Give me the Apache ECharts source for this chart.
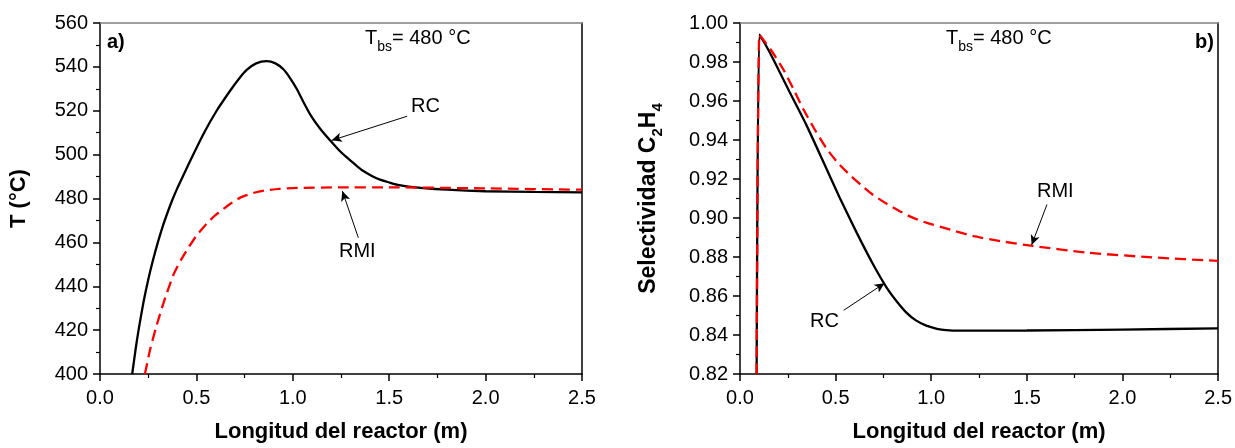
<!DOCTYPE html>
<html>
<head>
<meta charset="utf-8">
<script src="https://cdn.jsdelivr.net/npm/echarts@6/dist/echarts.min.js"></script>
<style>
html,body{margin:0;padding:0;background:#fff;}
#c{width:1235px;height:448px;}
</style>
</head>
<body>
<div id="c"></div>
<script>
// ---- Data ----
// Panel a) temperature vs reactor length
const xRC_T  = [0.167,0.185,0.2,0.225,0.25,0.275,0.3,0.325,0.35,0.375,0.4,0.44,0.475,0.54,0.605,0.674,0.72,0.761,0.81,0.864,0.91,0.951,0.985,1.02,1.055,1.089,1.14,1.193,1.24,1.28,1.33,1.366,1.41,1.452,1.5,1.539,1.6,1.677,1.8,2.0,2.25,2.5];
const tRC    = [400,411.5,420,432.5,443,452,460,467.2,473.5,479.3,484.5,492,498.5,510,520,529,534.5,538.6,541.6,542.6,541.6,538.9,535,530,524,518.5,512,506.5,502,498.7,495,492.5,490.3,488.6,487.3,486.3,485.4,484.7,484,483.3,483,482.8];
const xRMI_T = [0.233,0.259,0.29,0.328,0.38,0.42,0.458,0.50,0.553,0.60,0.674,0.73,0.795,0.85,0.93,1.02,1.25,1.5,2.0,2.5];
const tRMI   = [400,410.8,421,432,445,452,457.5,463,468.5,472.5,477.5,480.5,482.5,483.6,484.4,484.8,485.1,485.1,484.6,484.0];
// Panel b) C2H4 selectivity vs reactor length
const xRC_S  = [0.087,0.101,0.13,0.174,0.26,0.348,0.435,0.522,0.61,0.695,0.765,0.82,0.870,0.92,0.974,1.03,1.078,1.15,1.217,1.5,2.0,2.5];
const sRC    = [0.82,0.994,0.9895,0.9814,0.9645,0.9475,0.929,0.9103,0.8925,0.8764,0.8646,0.8572,0.8515,0.8475,0.8448,0.8432,0.8425,0.8422,0.8422,0.8423,0.8428,0.8434];
const xRMI_S = [0.087,0.101,0.122,0.17,0.226,0.28,0.330,0.39,0.452,0.51,0.574,0.635,0.695,0.765,0.835,0.90,0.974,1.1,1.217,1.37,1.53,1.809,2.156,2.5];
const sRMI   = [0.82,0.994,0.9915,0.985,0.9763,0.966,0.956,0.9455,0.9357,0.9285,0.9221,0.9167,0.9119,0.9074,0.9035,0.9003,0.8976,0.894,0.8908,0.888,0.8857,0.8823,0.8798,0.878];
// Axis ranges / ticks
const xRange = [0, 2.5, 0.5];
const tRange = [400, 560, 20];
const sRange = [0.82, 1.00, 0.02];
// Annotation arrows [from, to] in data coordinates
const arrowsT = [[[1.593,517.5],[1.202,506.5]], [[1.340,462.1],[1.257,483.4]]];
const arrowsS = [[[1.605,0.9069],[1.525,0.8862]], [[0.5425,0.8527],[0.756,0.8666]]];

const zip = (xs, ys) => xs.map((x, i) => [x, ys[i]]);
const FONT = 'Liberation Sans, Arial, sans-serif';

function bottomX(gi, nameStr) {
  return {
    type: 'value', gridIndex: gi, min: xRange[0], max: xRange[1], interval: xRange[2],
    name: nameStr, nameLocation: 'middle', nameGap: 47,
    nameTextStyle: {fontFamily: FONT, fontSize: 22, fontWeight: 'bold', color: '#000'},
    axisLine: {show: true, onZero: false, lineStyle: {color: '#000', width: 1.5}},
    axisTick: {show: true, inside: false, length: 7, lineStyle: {color: '#000', width: 1.5}},
    minorTick: {show: true, splitNumber: 2, length: 4, lineStyle: {color: '#000', width: 1.2}},
    axisLabel: {fontFamily: FONT, fontSize: 20, color: '#000', margin: 14, formatter: v => v.toFixed(1)},
    splitLine: {show: false}
  };
}
function topX(gi) {
  return {
    type: 'value', gridIndex: gi, position: 'top', min: xRange[0], max: xRange[1],
    axisLine: {show: true, onZero: false, lineStyle: {color: '#808080', width: 1.5}},
    axisTick: {show: false}, axisLabel: {show: false}, splitLine: {show: false}
  };
}
function leftY(gi, r, nameStr, nameGap, fmt, fs, rich) {
  return {
    type: 'value', gridIndex: gi, min: r[0], max: r[1], interval: r[2],
    name: nameStr, nameLocation: 'middle', nameGap: nameGap,
    nameTextStyle: {fontFamily: FONT, fontSize: fs, fontWeight: 'bold', color: '#000', rich: rich},
    axisLine: {show: true, onZero: false, lineStyle: {color: '#000', width: 1.5}},
    axisTick: {show: true, inside: false, length: 7, lineStyle: {color: '#000', width: 1.5}},
    minorTick: {show: true, splitNumber: 2, length: 4, lineStyle: {color: '#000', width: 1.2}},
    axisLabel: {fontFamily: FONT, fontSize: 20, color: '#000', margin: 12, formatter: fmt},
    splitLine: {show: false}
  };
}
function rightY(gi, r) {
  return {
    type: 'value', gridIndex: gi, position: 'right', min: r[0], max: r[1],
    axisLine: {show: true, onZero: false, lineStyle: {color: '#000', width: 1.5}},
    axisTick: {show: false}, axisLabel: {show: false}, splitLine: {show: false}
  };
}
function arrowMark(arrs) {
  return {
    silent: true, symbol: ['none', 'arrow'], symbolSize: [7, 10],
    label: {show: false},
    lineStyle: {color: '#000', width: 1, type: 'solid'},
    emphasis: {disabled: true},
    data: arrs.map(a => [{coord: a[0]}, {coord: a[1]}])
  };
}
function lineSeries(xi, yi, data, color, dashed, mark) {
  const s = {
    type: 'line', xAxisIndex: xi, yAxisIndex: yi, data: data,
    showSymbol: false, symbol: 'none', smooth: 0.2, clip: true,
    lineStyle: {color: color, width: 2.3, type: dashed ? [11, 6] : 'solid'},
    z: dashed ? 3 : 2
  };
  if (mark) s.markLine = mark;
  return s;
}

const selRich = {
  m: {fontFamily: FONT, fontSize: 23, fontWeight: 'bold', color: '#000', lineHeight: 32},
  s: {fontFamily: FONT, fontSize: 15, fontWeight: 'bold', color: '#000', lineHeight: 15, verticalAlign: 'bottom'}
};
const tbsRich = {
  a: {fontFamily: FONT, fontSize: 20, color: '#000', lineHeight: 32},
  b: {fontFamily: FONT, fontSize: 14, color: '#000', lineHeight: 14, verticalAlign: 'bottom'}
};
function txt(left, top, text, size, bold) {
  return {type: 'text', left: left, top: top, z: 10,
    style: {text: text, fontFamily: FONT, fontSize: size, fontWeight: bold ? 'bold' : 'normal', fill: '#000'}};
}
function richTxt(left, top) {
  return {type: 'text', left: left, top: top, z: 10,
    style: {text: '{a|T}{b|bs}{a|= 480 °C}', rich: tbsRich, fill: '#000'}};
}

const chart = echarts.init(document.getElementById('c'), null, {renderer: 'canvas'});
chart.setOption({
  animation: false,
  backgroundColor: '#fff',
  grid: [
    {left: 100, top: 23, width: 482, height: 354, containLabel: false},
    {left: 740, top: 23, width: 479, height: 354, containLabel: false}
  ],
  xAxis: [bottomX(0, 'Longitud del reactor (m)'), topX(0), bottomX(1, 'Longitud del reactor (m)'), topX(1)],
  yAxis: [
    leftY(0, tRange, 'T (°C)', 70, v => String(v), 22),
    rightY(0, tRange),
    leftY(1, sRange, '{m|Selectividad C}{s|2}{m|H}{s|4}', 75, v => v.toFixed(2), 23, selRich),
    rightY(1, sRange)
  ],
  series: [
    lineSeries(0, 0, zip(xRC_T, tRC), '#000', false, arrowMark(arrowsT)),
    lineSeries(0, 0, zip(xRMI_T, tRMI), '#ff0000', true),
    lineSeries(2, 2, zip(xRC_S, sRC), '#000', false, arrowMark(arrowsS)),
    lineSeries(2, 2, zip(xRMI_S, sRMI), '#ff0000', true)
  ],
  graphic: [
    txt(107, 32, 'a)', 20, true),
    richTxt(365, 28),
    txt(411, 96, 'RC', 20, false),
    txt(339, 241, 'RMI', 20, false),
    txt(1195, 32, 'b)', 20, true),
    richTxt(946, 28),
    txt(1037, 181, 'RMI', 20, false),
    txt(810, 311, 'RC', 20, false)
  ]
});
</script>
</body>
</html>
